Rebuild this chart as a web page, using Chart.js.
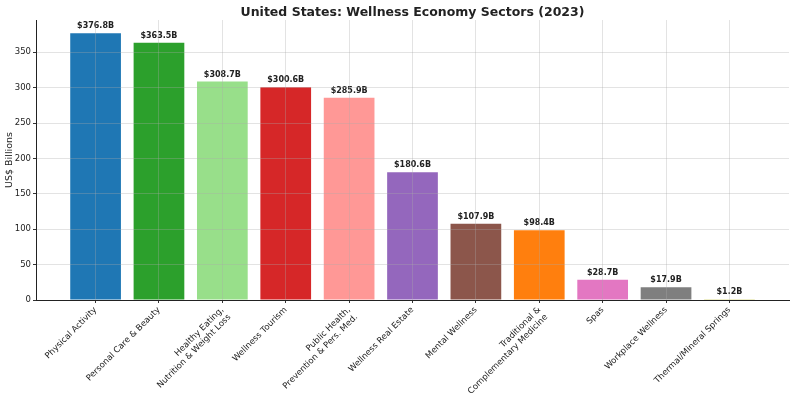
<!DOCTYPE html>
<html>
<head>
<meta charset="utf-8">
<script src="https://cdn.jsdelivr.net/npm/chart.js@4/dist/chart.umd.min.js"></script>
<style>
  html, body { margin: 0; padding: 0; background: #fff; }
  #wrap { width: 792px; height: 393px; }
</style>
</head>
<body>
<div id="wrap"><canvas id="sectorChart" width="792" height="393"></canvas></div>
<script>
// Sector names (multi-line where the original wraps)
const sectors = [
  'Physical Activity',
  'Personal Care & Beauty',
  ['Healthy Eating,', 'Nutrition & Weight Loss'],
  'Wellness Tourism',
  ['Public Health,', 'Prevention & Pers. Med.'],
  'Wellness Real Estate',
  'Mental Wellness',
  ['Traditional &', 'Complementary Medicine'],
  'Spas',
  'Workplace Wellness',
  'Thermal/Mineral Springs'
];
// market size, US$ billions
const marketSize = [376.8, 363.5, 308.7, 300.6, 285.9, 180.6, 107.9, 98.4, 28.7, 17.9, 1.2];
const barColors = [
  '#1f77b4', '#2ca02c', '#98df8a', '#d62728', '#ff9896',
  '#9467bd', '#8c564b', '#ff7f0e', '#e377c2', '#7f7f7f', '#bcbd22'
];
const yTicks = [0, 50, 100, 150, 200, 250, 300, 350];

const chartTitle = 'United States: Wellness Economy Sectors (2023)';
const FONT = "'DejaVu Sans', sans-serif";
const gridColor = 'rgba(170,170,170,0.33)';

// value labels above each bar + title centred on the plot area
const barLabels = {
  id: 'barLabels',
  afterDatasetsDraw(chart) {
    const ctx = chart.ctx;
    const meta = chart.getDatasetMeta(0);
    ctx.save();
    ctx.font = 'bold 8px ' + FONT;
    ctx.fillStyle = '#222';
    ctx.textAlign = 'center';
    ctx.textBaseline = 'alphabetic';
    meta.data.forEach((bar, i) => {
      ctx.fillText('$' + marketSize[i].toFixed(1) + 'B', bar.x, bar.y - 5);
    });
    const area = chart.chartArea;
    ctx.font = 'bold 12.5px ' + FONT;
    ctx.fillText(chartTitle, (area.left + area.right) / 2, 15.5);
    ctx.restore();
  }
};

const ctx = document.getElementById('sectorChart').getContext('2d');

new Chart(ctx, {
  type: 'bar',
  data: {
    datasets: [
      {
        data: marketSize.map((v, i) => ({ x: i, y: v })),
        backgroundColor: barColors,
        borderWidth: 0,
        categoryPercentage: 0.8,
        barPercentage: 1.0
      }
    ]
  },
  options: {
    responsive: false,
    animation: false,
    layout: { padding: { top: 20, right: 3, left: 0, bottom: 0 } },
    plugins: {
      legend: { display: false },
      tooltip: { enabled: false },
      title: { display: false }
    },
    scales: {
      x: {
        type: 'linear',
        min: -0.94,
        max: 10.94,
        offset: false,
        afterBuildTicks(scale) {
          scale.ticks = sectors.map((_, i) => ({ value: i }));
        },
        afterFit(scale) { scale.height = 93; },
        grid: {
          offset: false,
          color: gridColor,
          z: 1,
          drawTicks: true,
          tickLength: 3,
          tickColor: '#333'
        },
        border: { display: true, color: '#222', width: 1, z: 2 },
        ticks: {
          autoSkip: false,
          minRotation: 45,
          maxRotation: 45,
          padding: 2,
          color: '#222',
          font: { family: FONT, size: 8.5 },
          callback: (val) => sectors[val]
        }
      },
      y: {
        min: 0,
        max: 395.6,
        afterBuildTicks(scale) {
          scale.ticks = yTicks.map(v => ({ value: v }));
        },
        afterFit(scale) { scale.width = 36; },
        grid: {
          offset: false,
          color: gridColor,
          z: 1,
          drawTicks: true,
          tickLength: 3,
          tickColor: '#333'
        },
        border: { display: true, color: '#222', width: 1, z: 2 },
        title: {
          display: true,
          text: 'US$ Billions',
          color: '#222',
          font: { family: FONT, size: 9.5 },
          padding: { top: 4, bottom: 0 }
        },
        ticks: {
          padding: 2,
          color: '#222',
          font: { family: FONT, size: 8.5 }
        }
      }
    }
  },
  plugins: [barLabels]
});
</script>
</body>
</html>
